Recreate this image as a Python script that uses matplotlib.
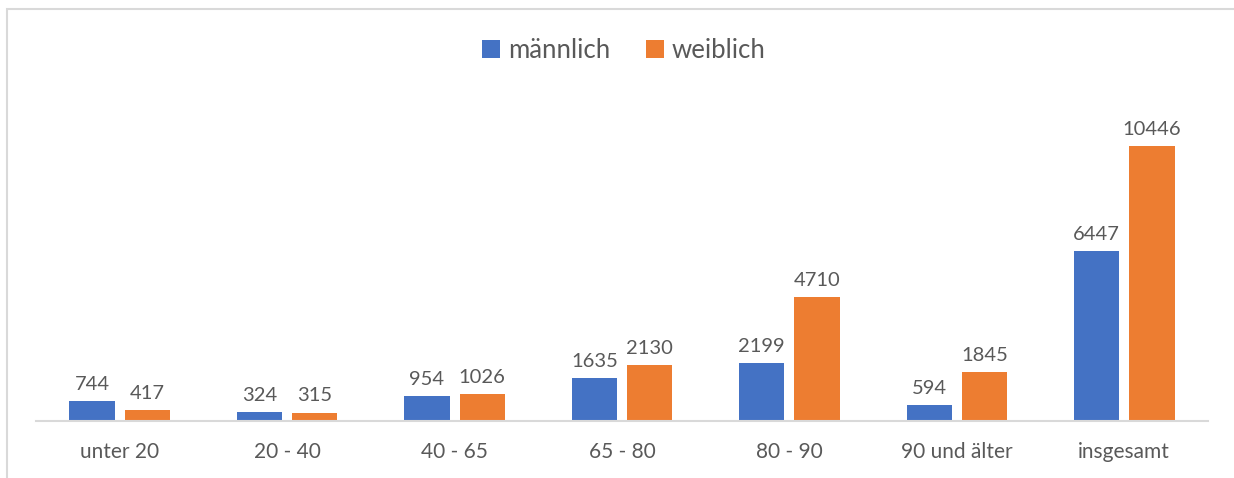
import numpy as np
import matplotlib.pyplot as plt
from matplotlib.patches import Rectangle

categories = ['unter 20', '20 - 40', '40 - 65', '65 - 80', '80 - 90', '90 und älter', 'insgesamt']
maennlich = [744, 324, 954, 1635, 2199, 594, 6447]
weiblich = [417, 315, 1026, 2130, 4710, 1845, 10446]

blue = '#4472C4'
orange = '#ED7D31'
grey_text = '#595959'

plt.rcParams['font.family'] = ['Lato', 'DejaVu Sans']

fig = plt.figure(figsize=(12.34, 4.78), dpi=100)
ax = fig.add_axes([36 / 1234, (478 - 421) / 478, 1172 / 1234, 316 / 478])

# chart frame (cut off at right and bottom like the screenshot)
fig.patches.append(Rectangle((7 / 1234, -0.1), 1.2, (478 - 9) / 478 + 0.1,
                             transform=fig.transFigure, fill=False,
                             edgecolor='#D9D9D9', linewidth=1.5))

x = np.arange(len(categories))
w = 0.27
off = 0.165
b1 = ax.bar(x - off, maennlich, w, color=blue, label='männlich')
b2 = ax.bar(x + off, weiblich, w, color=orange, label='weiblich')

for bars, vals in ((b1, maennlich), (b2, weiblich)):
    for b, v in zip(bars, vals):
        ax.annotate(str(v), (b.get_x() + b.get_width() / 2, v),
                    xytext=(0, 6), textcoords='offset points',
                    ha='center', va='bottom', fontsize=14.5, color=grey_text)

ax.set_xlim(-0.5, len(categories) - 0.5)
ax.set_ylim(0, 12000)
ax.set_xticks(x)
ax.set_xticklabels(categories, fontsize=15, color=grey_text)
ax.tick_params(axis='x', length=0, pad=15)
ax.set_yticks([])
for s in ['top', 'right', 'left']:
    ax.spines[s].set_visible(False)
ax.spines['bottom'].set_color('#D9D9D9')
ax.spines['bottom'].set_linewidth(1.5)

leg = fig.legend(loc='center', bbox_to_anchor=(624 / 1234, 1 - 50 / 478), ncol=2,
                 frameon=False, fontsize=18.5, handlelength=0.7, handleheight=0.7,
                 handletextpad=0.3, columnspacing=1.4)
for t in leg.get_texts():
    t.set_color(grey_text)

fig.savefig('out.png', dpi=100)
